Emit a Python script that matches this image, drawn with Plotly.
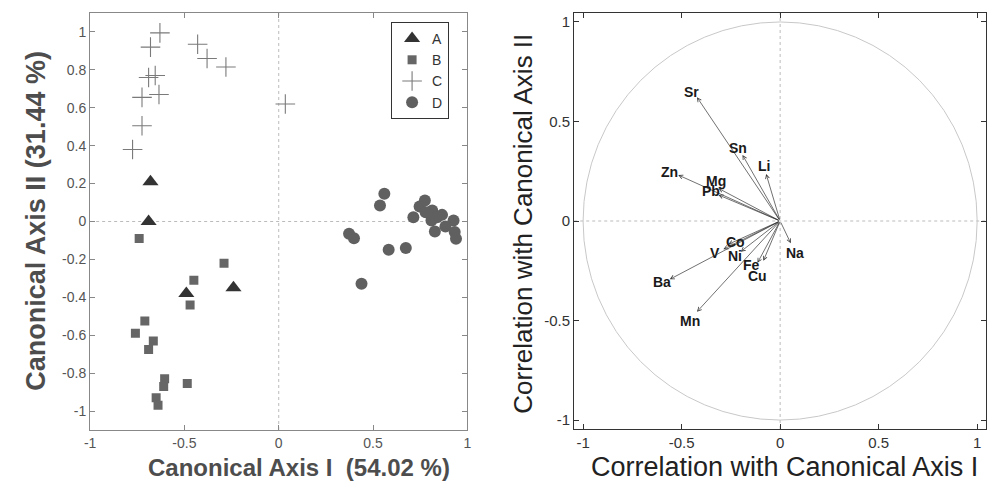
import plotly.graph_objects as go

# ---------------- data: left panel (canonical scores) ----------------
A_x = [-0.68, -0.69, -0.49, -0.24]
A_y = [0.21, 0.00, -0.38, -0.35]

B_x = [-0.74, -0.29, -0.45, -0.47, -0.71, -0.76, -0.665, -0.69, -0.605, -0.61, -0.485, -0.65, -0.64]
B_y = [-0.09, -0.22, -0.31, -0.44, -0.525, -0.59, -0.63, -0.675, -0.83, -0.87, -0.855, -0.93, -0.97]

C_x = [-0.63, -0.68, -0.43, -0.38, -0.28, -0.69, -0.655, -0.635, -0.725, -0.725, -0.775, 0.035]
C_y = [0.995, 0.92, 0.935, 0.86, 0.815, 0.76, 0.77, 0.67, 0.655, 0.505, 0.38, 0.62]

D_x = [0.56, 0.537, 0.373, 0.399, 0.583, 0.674, 0.439, 0.714, 0.775, 0.747,
       0.814, 0.866, 0.81, 0.927, 0.828, 0.884, 0.933, 0.94, 0.779, 0.84]
D_y = [0.146, 0.084, -0.065, -0.088, -0.149, -0.14, -0.328, 0.023, 0.111, 0.079,
       0.058, 0.035, 0.005, 0.005, -0.053, -0.026, -0.056, -0.091, 0.049, 0.023]

# ---------------- data: right panel (correlation vectors) ----------------
elements = ['Sr', 'Sn', 'Li', 'Zn', 'Mg', 'Pb', 'Co', 'V', 'Ni', 'Fe', 'Cu', 'Ba', 'Mn', 'Na']
corr_x = [-0.422, -0.191, -0.071, -0.517, -0.313, -0.313, -0.263, -0.288, -0.200, -0.115, -0.085, -0.560, -0.422, 0.054]
corr_y = [0.622, 0.332, 0.236, 0.231, 0.164, 0.131, -0.117, -0.142, -0.154, -0.210, -0.200, -0.293, -0.456, -0.112]
label_x = [-0.449, -0.213, -0.083, -0.559, -0.323, -0.353, -0.228, -0.328, -0.228, -0.143, -0.113, -0.599, -0.459, 0.073]
label_y = [0.648, 0.367, 0.276, 0.246, 0.201, 0.151, -0.106, -0.161, -0.176, -0.221, -0.276, -0.307, -0.503, -0.161]

left_xticks = [-1, -0.5, 0, 0.5, 1]
left_xticktext = ['-1', '-0.5', '0', '0.5', '1']
left_yticks = [-1, -0.8, -0.6, -0.4, -0.2, 0, 0.2, 0.4, 0.6, 0.8, 1]
left_yticktext = ['-1', '-0.8', '-0.6', '-0.4', '-0.2', '0', '0.2', '0.4', '0.6', '0.8', '1']
right_ticks = [-1, -0.5, 0, 0.5, 1]
right_ticktext = ['-1', '-0.5', '0', '0.5', '1']

W, H = 993, 493
FONT = 'Liberation Sans, Arial, Helvetica, sans-serif'

fig = go.Figure()

fig.add_trace(go.Scatter(x=A_x, y=A_y, mode='markers', name='A', xaxis='x', yaxis='y',
                         marker=dict(symbol='triangle-up', size=14, color='#333333')))
fig.add_trace(go.Scatter(x=B_x, y=B_y, mode='markers', name='B', xaxis='x', yaxis='y',
                         marker=dict(symbol='square', size=9, color='#666666')))
fig.add_trace(go.Scatter(x=C_x, y=C_y, mode='markers', name='C', xaxis='x', yaxis='y',
                         marker=dict(symbol='cross-thin-open', size=14, color='#7a7a7a',
                                     line=dict(color='#7a7a7a', width=1.1))))
fig.add_trace(go.Scatter(x=D_x, y=D_y, mode='markers', name='D', xaxis='x', yaxis='y',
                         marker=dict(symbol='circle', size=12, color='#606060')))

# invisible trace to anchor the right axes
fig.add_trace(go.Scatter(x=corr_x, y=corr_y, mode='markers', xaxis='x2', yaxis='y2',
                         marker=dict(size=1, opacity=0), showlegend=False, hoverinfo='skip'))

annotations = []
for name, x, y, lx, ly in zip(elements, corr_x, corr_y, label_x, label_y):
    annotations.append(dict(x=x, y=y, ax=0, ay=0, xref='x2', yref='y2', axref='x2', ayref='y2',
                            text='', showarrow=True, arrowhead=5, arrowsize=1.1, arrowwidth=0.7,
                            arrowcolor='#333333', standoff=0, startstandoff=0))
    annotations.append(dict(x=lx, y=ly, xref='x2', yref='y2', text='<b>%s</b>' % name,
                            showarrow=False, font=dict(family=FONT, size=14, color='#1a1a1a')))

# axis titles
annotations += [
    dict(x=296 / W, y=1 - 467 / H, xref='paper', yref='paper', showarrow=False,
         xanchor='center', yanchor='middle',
         text='<b>Canonical Axis I  (54.02 %)</b>', font=dict(family=FONT, size=24, color='#4d4d4d')),
    dict(x=30 / W, y=1 - 221 / H, xref='paper', yref='paper', showarrow=False, textangle=-90,
         xanchor='center', yanchor='middle',
         text='<b>Canonical Axis II (31.44 %)</b>', font=dict(family=FONT, size=27, color='#4d4d4d')),
    dict(x=786 / W, y=1 - 467 / H, xref='paper', yref='paper', showarrow=False,
         xanchor='center', yanchor='middle',
         text='Correlation with Canonical Axis I', font=dict(family=FONT, size=27, color='#222222')),
    dict(x=522 / W, y=1 - 224 / H, xref='paper', yref='paper', showarrow=False, textangle=-90,
         xanchor='center', yanchor='middle',
         text='Correlation with Canonical Axis II', font=dict(family=FONT, size=26, color='#222222')),
]

shapes = [
    dict(type='line', xref='x', yref='paper', x0=0, x1=0, y0=1 - 430 / H, y1=1 - 13 / H,
         line=dict(color='#bbbbbb', width=1, dash='dot'), layer='below'),
    dict(type='line', xref='paper', yref='y', x0=85 / W, x1=466 / W, y0=0, y1=0,
         line=dict(color='#bbbbbb', width=1, dash='dot'), layer='below'),
    dict(type='line', xref='x2', yref='paper', x0=0, x1=0, y0=1 - 429 / H, y1=1 - 13 / H,
         line=dict(color='#bbbbbb', width=1, dash='dot'), layer='below'),
    dict(type='line', xref='paper', yref='y2', x0=574 / W, x1=990 / W, y0=0, y1=0,
         line=dict(color='#bbbbbb', width=1, dash='dot'), layer='below'),
    dict(type='circle', xref='x2', yref='y2', x0=-1, x1=1, y0=-1, y1=1,
         line=dict(color='#c8c8c8', width=1), layer='below'),
]

axis_common = dict(showgrid=False, zeroline=False, showline=True, mirror='ticks',
                   ticks='inside', ticklen=5, tickwidth=1)

fig.update_layout(
    width=W, height=H, margin=dict(l=0, r=0, t=0, b=0),
    paper_bgcolor='white', plot_bgcolor='white',
    font=dict(family=FONT),
    xaxis=dict(domain=[85 / W, 466 / W], range=[-1, 1], tickvals=left_xticks, ticktext=left_xticktext,
               linecolor='#888888', tickcolor='#888888', linewidth=1.3,
               tickfont=dict(size=14, color='#555555'), anchor='y', **axis_common),
    yaxis=dict(domain=[1 - 430 / H, 1 - 13 / H], range=[-1.1, 1.1], tickvals=left_yticks,
               ticktext=left_yticktext, linecolor='#888888', tickcolor='#888888', linewidth=1.3,
               tickfont=dict(size=14, color='#555555'), anchor='x', **axis_common),
    xaxis2=dict(domain=[574 / W, 990 / W], range=[-1.045, 1.045], tickvals=right_ticks,
                ticktext=right_ticktext, linecolor='#333333', tickcolor='#333333', linewidth=1.2,
                tickfont=dict(size=15, color='#333333'), anchor='y2', **axis_common),
    yaxis2=dict(domain=[1 - 429 / H, 1 - 13 / H], range=[-1.045, 1.045], tickvals=right_ticks,
                ticktext=right_ticktext, linecolor='#333333', tickcolor='#333333', linewidth=1.2,
                tickfont=dict(size=15, color='#333333'), anchor='x2', **axis_common),
    legend=dict(x=389 / W, y=1 - 22 / H, xanchor='left', yanchor='top', bordercolor='#333333',
                borderwidth=1, bgcolor='white', font=dict(size=14, color='#333333', family=FONT),
                tracegroupgap=0),
    annotations=annotations, shapes=shapes,
)

fig.write_html('out.html', config={'displayModeBar': False},
               post_script="document.body.style.margin='0';")
